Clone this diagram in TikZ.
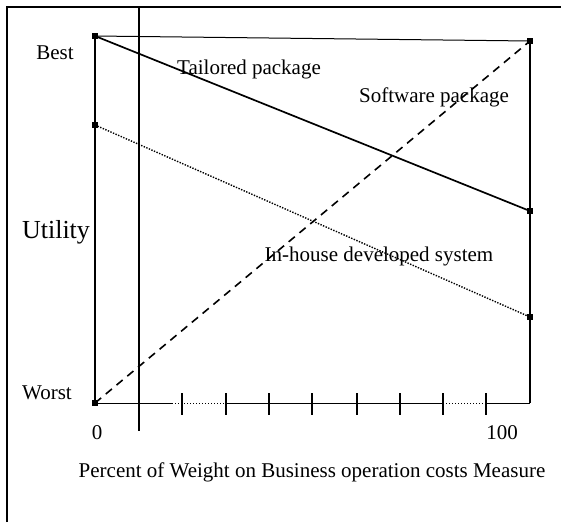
\documentclass[tikz,border=0pt]{standalone}
\usepackage{fontspec}
\setmainfont{Liberation Serif}
\begin{document}
\begin{tikzpicture}[x=1pt,y=-1pt,
  lbl/.style={inner sep=0pt,font=\fontsize{21}{23}\selectfont},
  mk/.style={fill=black,inner sep=0pt,minimum size=6pt,draw=none,rectangle},
  frameline/.style={line width=1.8pt},
  axisline/.style={line width=1pt},
  tickmark/.style={line width=1.4pt}]
\useasboundingbox (0,0) rectangle (561,522);
% outer frame
\coordinate (ftl) at (7,7);
\coordinate (ftr) at (561,7);
\coordinate (fbl) at (7,522);
\draw[frameline] (fbl) -- (ftl) -- (ftr);
% reference vertical line
\coordinate (vtop) at (139,7);
\coordinate (vbot) at (139,431);
\draw[line width=1.5pt] (vtop) -- (vbot);
% markers
\node[mk] (best)  at (95,36) {};
\node[mk] (inl)   at (95,125) {};
\node[mk] (worst) at (95,403) {};
\node[mk] (swr)   at (530,41) {};
\node[mk] (tpr)   at (530,211) {};
\node[mk] (inr)   at (530,317) {};
\coordinate (br) at (530,403);
% box around the plot
\draw[line width=1.7pt] (best.center) -- (worst.center);
\draw[axisline] (best.center) -- (swr.center);
\draw[line width=1.7pt] (swr.center) -- (br);
% bottom axis with ticks
\draw[axisline] (worst.center) -- (172,403);
\draw[axisline,dotted] (172,403) -- (226,403);
\draw[axisline] (226,403) -- (443,403);
\draw[axisline,dotted] (443,403) -- (486,403);
\draw[axisline] (486,403) -- (br);
\foreach \t in {182,226,269,312,357,400,443,486}
  \draw[tickmark] (\t,393) -- (\t,415);
% curves
\draw[line width=1.7pt] (best.center) -- (tpr.center);
\draw[line width=1.4pt,dash pattern=on 1.4pt off 1.4pt] (inl.center) -- (inr.center);
\draw[line width=1.6pt,dash pattern=on 8pt off 6pt] (worst.center) -- (swr.center);
% labels
\node[lbl] (tBest) at (55,53) {Best};
\node[lbl] (tWorst) at (47,393) {Worst};
\node[lbl,font=\fontsize{26}{28}\selectfont] (tUtil) at (56,232) {Utility};
\node[lbl] (t0) at (97,433) {0};
\node[lbl] (t100) at (502,433) {100};
\node[lbl] (tTail) at (249,69) {Tailored package};
\node[lbl] (tSoft) at (434,97) {Software package};
\node[lbl] (tIn) at (379,256) {In-house developed system};
\node[lbl] (tX) at (312,472) {Percent of Weight on Business operation costs Measure};
\end{tikzpicture}
\end{document}
